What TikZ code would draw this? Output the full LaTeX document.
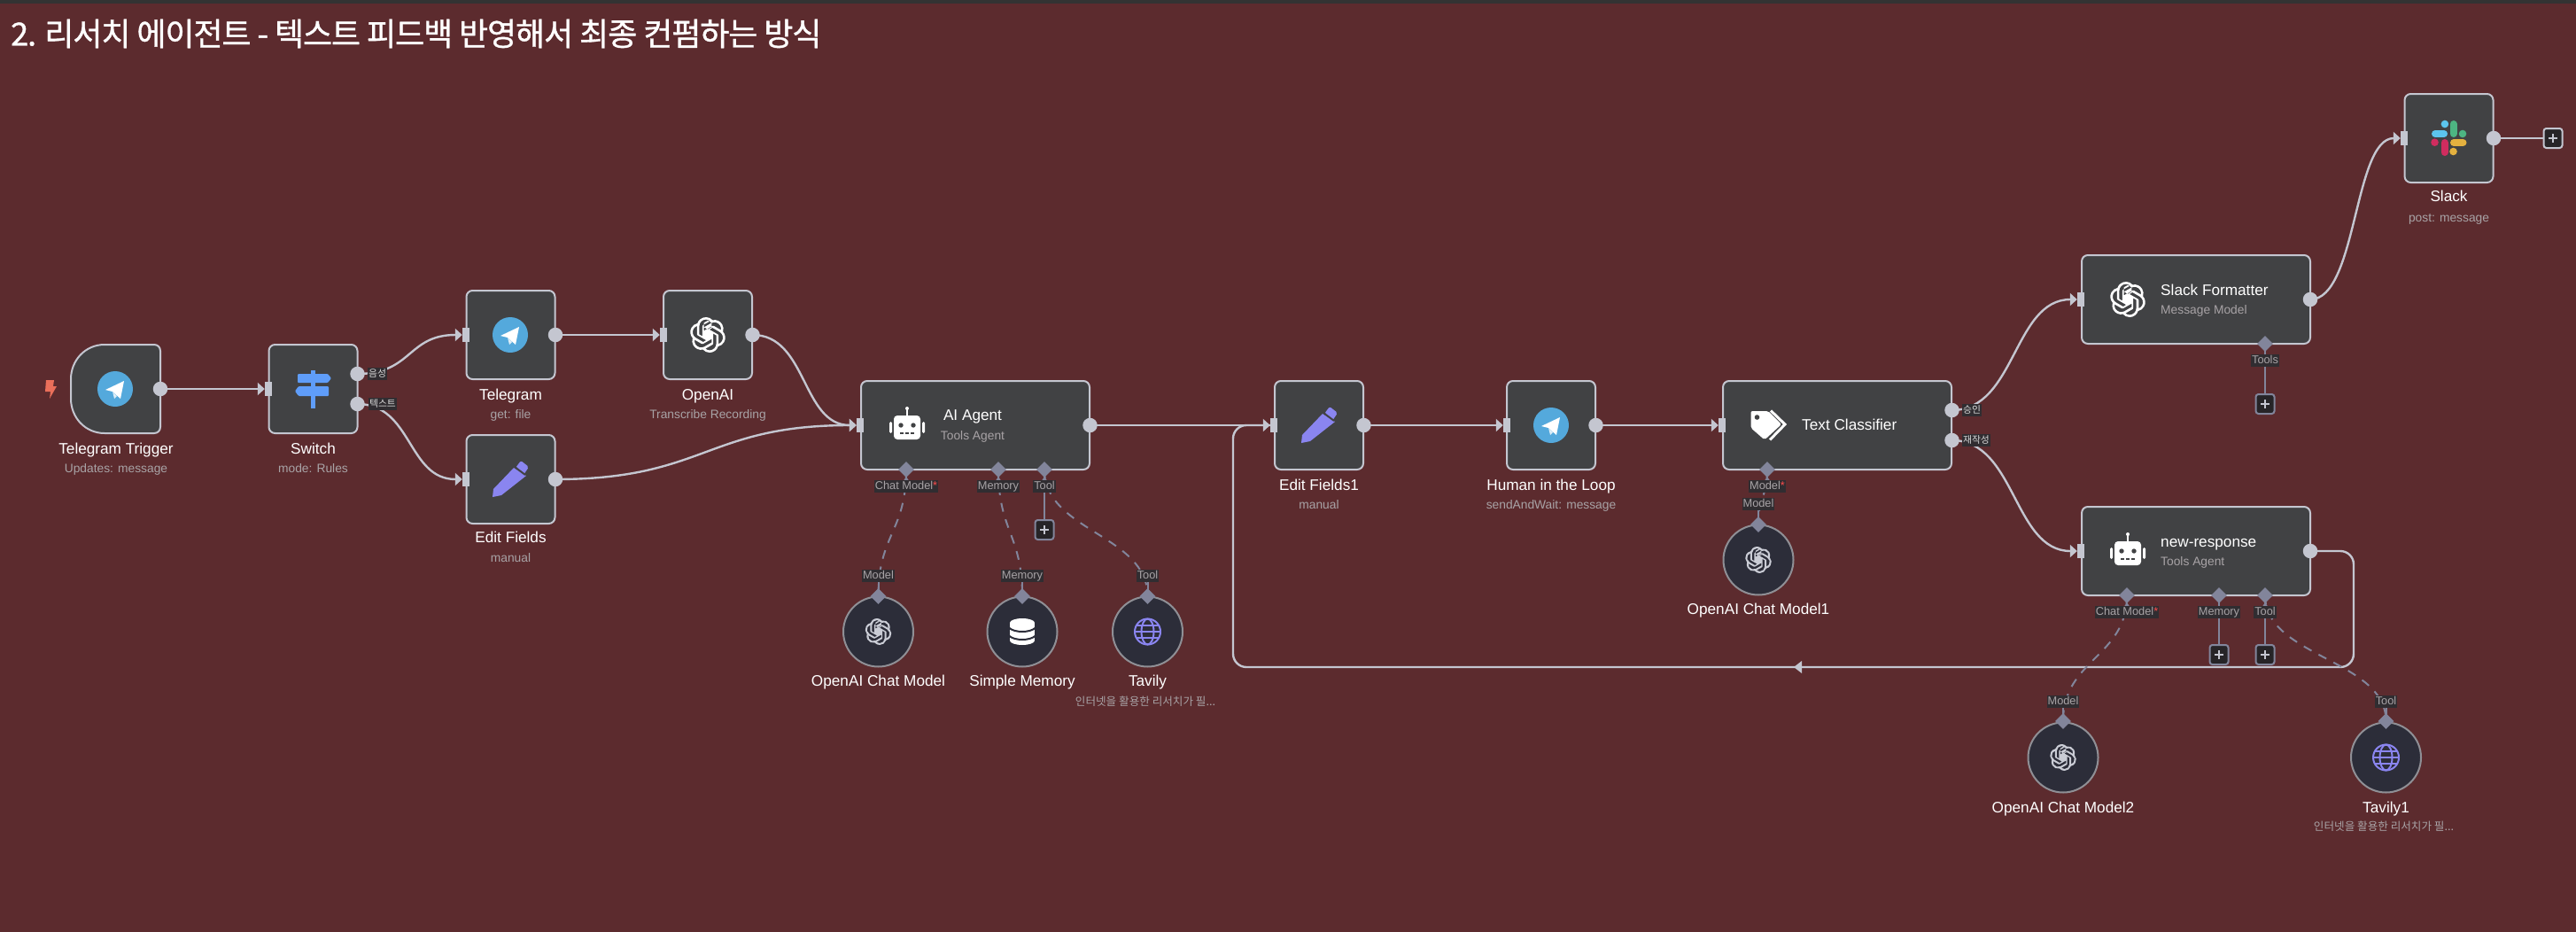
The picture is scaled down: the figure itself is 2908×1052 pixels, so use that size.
\documentclass[tikz,border=0pt]{standalone}
\usepackage{fontspec}
\setmainfont{Liberation Sans}
\newfontfamily\cjk{Noto Sans CJK KR}
\newfontfamily\cjktitle[FakeBold=1,LetterSpace=-3.1]{Noto Sans CJK KR}
\usetikzlibrary{shapes.geometric,arrows.meta,svg.path}
\definecolor{bgc}{HTML}{5C2B2E}
\definecolor{nodec}{HTML}{414244}
\definecolor{linec}{HTML}{C4C6D0}
\definecolor{subc}{HTML}{A8A3A6}
\definecolor{circc}{HTML}{2C2D39}
\definecolor{circb}{HTML}{8F8F95}
\definecolor{diac}{HTML}{82859B}
\definecolor{chipc}{HTML}{302D31}
\definecolor{tgc}{HTML}{54A9DC}
\definecolor{purp}{HTML}{8A85F0}
\definecolor{signc}{HTML}{5F9DF9}
\definecolor{boltc}{HTML}{EA6F5A}
\pgfdeclarelayer{bg}\pgfdeclarelayer{edges}\pgfsetlayers{bg,edges,main}
\tikzset{
 box/.style={draw=linec,fill=nodec,line width=2pt,rounded corners=7pt,minimum height=100pt,inner sep=0pt},
 sqbox/.style={box,minimum width=100pt},
 widebox/.style={box,minimum width=258pt},
 circ/.style={circle,draw=circb,fill=circc,line width=2pt,minimum size=79pt,inner sep=0pt},
 nm/.style={text=white,font=\fontsize{17.2}{20}\selectfont,inner sep=0pt,text height=12pt,text depth=2pt},
 sb/.style={text=subc,font=\fontsize{13.8}{16}\selectfont,inner sep=0pt,text height=10pt,text depth=2pt},
 sbk/.style={text=subc,font=\cjk\fontsize{12.6}{16}\selectfont,inner sep=0pt,text height=10pt,text depth=2pt},
 outdot/.style={circle,fill=linec,minimum size=16.5pt,inner sep=0pt},
 inbar/.style={rectangle,fill=linec,minimum width=8pt,minimum height=16pt,inner sep=0pt},
 dia/.style={diamond,fill=diac,minimum size=18pt,inner sep=0pt},
 chip/.style={fill=chipc,text=subc,font=\fontsize{12.8}{14}\selectfont,inner sep=1pt,text height=9.5pt,text depth=2pt},
 chipk/.style={fill=chipc,text=white!85!black,font=\cjk\fontsize{10.8}{14}\selectfont,inner sep=1pt,text height=9.5pt,text depth=2pt},
 plusb/.style={rectangle,rounded corners=3pt,fill=chipc!80!black,draw=diac,line width=2pt,minimum width=21pt,minimum height=22pt,inner sep=0pt},
 plusm/.style={plusb,draw=linec},
 flow/.style={draw=linec,line width=2.4pt,-{Triangle[length=8pt,width=14pt]}},
 flown/.style={draw=linec,line width=2.4pt},
 dashln/.style={draw=diac,line width=2pt,dash pattern=on 10pt off 9pt},
 solidln/.style={draw=diac,line width=2pt},
}
% icons
\newcommand{\oaiicon}[4]{% x y radius colour
 \fill[#4,even odd rule,shift={(#1,#2)},scale=#3/12,yscale=-1,shift={(-12pt,-12pt)}] svg {M22.2819 9.8211a5.9847 5.9847 0 0 0-.5157-4.9108 6.0462 6.0462 0 0 0-6.5098-2.9A6.0651 6.0651 0 0 0 4.9807 4.1818a5.9847 5.9847 0 0 0-3.9977 2.9 6.0462 6.0462 0 0 0 .7427 7.0966 5.98 5.98 0 0 0 .511 4.9107 6.051 6.051 0 0 0 6.5146 2.9001A5.9847 5.9847 0 0 0 13.2599 24a6.0557 6.0557 0 0 0 5.7718-4.2058 5.9894 5.9894 0 0 0 3.9977-2.9001 6.0557 6.0557 0 0 0-.7475-7.0729zm-9.022 12.6081a4.4755 4.4755 0 0 1-2.8764-1.0408l.1419-.0804 4.7783-2.7582a.7948.7948 0 0 0 .3927-.6813v-6.7369l2.02 1.1686a.071.071 0 0 1 .038.052v5.5826a4.504 4.504 0 0 1-4.4945 4.4944zm-9.6607-4.1254a4.4708 4.4708 0 0 1-.5346-3.0137l.142.0852 4.783 2.7582a.7712.7712 0 0 0 .7806 0l5.8428-3.3685v2.3324a.0804.0804 0 0 1-.0332.0615L9.74 19.9502a4.4992 4.4992 0 0 1-6.1408-1.6464zM2.3408 7.8956a4.485 4.485 0 0 1 2.3655-1.9728V11.6a.7664.7664 0 0 0 .3879.6765l5.8144 3.3543-2.0201 1.1685a.0757.0757 0 0 1-.071 0l-4.8303-2.7865A4.504 4.504 0 0 1 2.3408 7.872zm16.5963 3.8558L13.1038 8.364 15.1192 7.2a.0757.0757 0 0 1 .071 0l4.8303 2.7913a4.4944 4.4944 0 0 1-.6765 8.1042v-5.6772a.79.79 0 0 0-.407-.667zm2.0107-3.0231l-.142-.0852-4.7735-2.7818a.7759.7759 0 0 0-.7854 0L9.409 9.2297V6.8974a.0662.0662 0 0 1 .0284-.0615l4.8303-2.7866a4.4992 4.4992 0 0 1 6.6802 4.66zM8.3065 12.863l-2.02-1.1638a.0804.0804 0 0 1-.038-.0567V6.0742a4.4992 4.4992 0 0 1 7.3757-3.4537l-.142.0805L8.704 5.459a.7948.7948 0 0 0-.3927.6813zm1.0976-2.3654l2.602-1.4998 2.6069 1.4998v2.9994l-2.5974 1.4997-2.6067-1.4997Z};}
\newcommand{\plussign}[2]{\draw[linec,line width=2pt] (#1-5,#2) -- (#1+5,#2) (#1,#2-5) -- (#1,#2+5);}
\newcommand{\tgicon}[2]{%
 \begin{scope}[shift={(#1,#2)}]
 \fill[tgc] (0,0) circle (20);
 \fill[white] (-11,1) -- (10,-9) -- (6,11) -- (-3,3) -- cycle;
 \fill[white!80!tgc] (-3,3) -- (-1,11) -- (2,8) -- cycle;
 \end{scope}}
\newcommand{\penicon}[2]{%
 \begin{scope}[shift={(#1,#2)}]
 \fill[purp] (4,-13) -- (18,-4) -- (-10,18) -- (-20,20) -- (-19,11) -- cycle;
 \fill[purp,rounded corners=2pt] (12,-21) -- (21,-14) -- (15,-5) -- (6,-13) -- cycle;
 \draw[nodec,line width=2pt] (5,-14) -- (17,-5);
 \end{scope}}
\newcommand{\roboticon}[2]{%
 \begin{scope}[shift={(#1,#2)}]
 \fill[white,rounded corners=4pt] (-15,-11) rectangle (15,16);
 \fill[white] (-1.2,-20) rectangle (1.2,-10);
 \fill[white] (0,-19) circle (2);
 \fill[white,rounded corners=1.5pt] (-20,-4) rectangle (-17,9);
 \fill[white,rounded corners=1.5pt] (17,-4) rectangle (20,9);
 \fill[nodec] (-7,0) circle (2.7);
 \fill[nodec] (7,0) circle (2.7);
 \fill[nodec] (-8,8) rectangle (-4,10);
 \fill[nodec] (-2,8) rectangle (2,10);
 \fill[nodec] (4,8) rectangle (8,10);
 \end{scope}}
\newcommand{\globeicon}[2]{\begin{scope}[shift={(#1,#2)},purp,line width=2pt]
 \draw (0,0) circle (14.5); \draw (0,0) ellipse (7 and 14.5); \draw (-14.5,0) -- (14.5,0);
 \draw (-12.5,-7) -- (12.5,-7); \draw (-12.5,7) -- (12.5,7);\end{scope}}
\begin{document}
\begin{tikzpicture}[x=1pt,y=-1pt]
\useasboundingbox (0,0) rectangle (2908,1052);
\begin{pgfonlayer}{bg}
\fill[bgc] (0,0) rectangle (2908,1052);
\fill[black!80] (0,0) rectangle (2908,4);
\end{pgfonlayer}
\node[anchor=west,text=white,font=\cjktitle\fontsize{36}{40}\selectfont,inner sep=0pt] (title) at (12,38) {2. 리서치 에이전트 - 텍스트 피드백 반영해서 최종 컨펌하는 방식};

% trigger
\draw[draw=linec,fill=nodec,line width=2pt] (118,389) -- (174,389) .. controls (178,389) and (181,392) .. (181,396) -- (181,482) .. controls (181,486) and (178,489) .. (174,489) -- (118,489) .. controls (96,489) and (80,471) .. (80,450) -- (80,428) .. controls (80,407) and (96,389) .. (118,389) -- cycle;
\node[inner sep=0pt,minimum width=100pt,minimum height=100pt] (trig) at (130.5,439) {};
\tgicon{130}{439}
\fill[boltc] (52,429) -- (61,429) -- (60,436) -- (64,436) -- (56,450) -- (57,442) -- (51,442) -- cycle;
\node[nm] (trig-n) at (131,507) {Telegram Trigger};
\node[sb] (trig-s) at (131,529) {Updates: message};
\node[outdot] (trig-o) at (181,439) {};

% switch
\node[sqbox] (sw) at (353.5,439) {};
\begin{scope}
\fill[signc] (351,418) rectangle (356,461);
\fill[signc,rounded corners=1pt] (336,422) -- (370,422) -- (374,427) -- (370,432) -- (336,432) -- cycle;
\fill[signc,rounded corners=1pt] (371,436) -- (337,436) -- (333,441.5) -- (337,447) -- (371,447) -- cycle;
\end{scope}
\node[nm] (sw-n) at (353.5,507) {Switch};
\node[sb] (sw-s) at (353.5,529) {mode: Rules};
\node[inbar] (sw-i) at (303,439) {};
\node[outdot] (sw-o1) at (403.5,422) {};
\node[outdot] (sw-o2) at (403.5,456) {};
\node[chipk] (sw-l1) at (426,422) {음성};
\node[chipk] (sw-l2) at (432,456) {텍스트};

% telegram
\node[sqbox] (tel) at (576.5,378) {};
\tgicon{576}{378}
\node[nm] (tel-n) at (576.5,446) {Telegram};
\node[sb] (tel-s) at (576.5,468) {get: file};
\node[inbar] (tel-i) at (526,378) {};
\node[outdot] (tel-o) at (627,378) {};

% edit fields
\node[sqbox] (ef) at (576.5,541) {};
\penicon{576}{541}
\node[nm] (ef-n) at (576.5,607) {Edit Fields};
\node[sb] (ef-s) at (576.5,630) {manual};
\node[inbar] (ef-i) at (526,541) {};
\node[outdot] (ef-o) at (627,541) {};

% openai
\node[sqbox] (oa) at (799,378) {};
\oaiicon{799}{378}{20}{white}
\node[nm] (oa-n) at (799,446) {OpenAI};
\node[sb] (oa-s) at (799,468) {Transcribe Recording};
\node[inbar] (oa-i) at (749,378) {};
\node[outdot] (oa-o) at (849.5,378) {};

% ai agent
\node[widebox] (ag) at (1101,480) {};
\roboticon{1024}{480}
\node[nm] (ag-n) at (1098,469) {AI Agent};
\node[sb] (ag-s) at (1098,492) {Tools Agent};
\node[inbar] (ag-i) at (971,480) {};
\node[outdot] (ag-o) at (1230.5,480) {};
\node[dia] (ag-d1) at (1023,530) {};
\node[dia] (ag-d2) at (1127,530) {};
\node[dia] (ag-d3) at (1179,530) {};
\foreach \x in {1023,1127,1179}{\fill[diac] (\x-4,544) -- (\x,538) -- (\x+4,544) -- cycle;}
\node[chip] (ag-l1) at (1023,549) {Chat Model{\color{red!70!white}*}};
\node[chip] (ag-l2) at (1127,549) {Memory};
\node[chip] (ag-l3) at (1179,549) {Tool};
\node[plusb] (ag-p) at (1179,598) {};
\plussign{1179}{598}

% sub nodes
\node[circ] (cm) at (991.5,713) {};
\oaiicon{991.5}{713}{15}{linec!90!white}
\node[dia] (cm-d) at (991.5,673) {};
\node[chip] (cm-l) at (991.5,650) {Model};
\node[nm] (cm-n) at (991.5,769) {OpenAI Chat Model};
\node[circ] (mem) at (1154,713) {};
\begin{scope}[shift={(1154,713)}]
\fill[white] (0,-10) ellipse (14 and 5);
\fill[white] (0,10) ellipse (14 and 5);
\fill[white] (-14,-10) rectangle (14,10);
\draw[circc,line width=2pt] (-15,-4.5) .. controls (-9,1.5) and (9,1.5) .. (15,-4.5);
\draw[circc,line width=2pt] (-15,4.5) .. controls (-9,10.5) and (9,10.5) .. (15,4.5);
\end{scope}
\node[dia] (mem-d) at (1154,673) {};
\node[chip] (mem-l) at (1154,650) {Memory};
\node[nm] (mem-n) at (1154,769) {Simple Memory};
\node[circ] (tv) at (1295.5,713) {};
\globeicon{1295.5}{713}
\node[dia] (tv-d) at (1295.5,673) {};
\node[chip] (tv-l) at (1295.5,650) {Tool};
\node[nm] (tv-n) at (1295.5,769) {Tavily};
\node[sbk] (tv-s) at (1293,792) {인터넷을 활용한 리서치가 필...};

% edit fields 1
\node[sqbox] (ef1) at (1489,480) {};
\penicon{1489}{480}
\node[nm] (ef1-n) at (1489,548) {Edit Fields1};
\node[sb] (ef1-s) at (1489,570) {manual};
\node[inbar] (ef1-i) at (1438,480) {};
\node[outdot] (ef1-o) at (1539.5,480) {};

% hitl
\node[sqbox] (hl) at (1751,480) {};
\tgicon{1751}{480}
\node[nm] (hl-n) at (1751,548) {Human in the Loop};
\node[sb] (hl-s) at (1751,570) {sendAndWait: message};
\node[inbar] (hl-i) at (1701,480) {};
\node[outdot] (hl-o) at (1801.5,480) {};

% text classifier
\node[widebox] (tc) at (2074,480) {};
\begin{scope}
\fill[white,rounded corners=2pt] (1976.5,464) -- (1996,464) -- (2011,479) -- (1992,496.5) -- (1976.5,483) -- cycle;
\fill[nodec] (1983.5,471) circle (2.8);
\draw[white,line width=3pt] (1999,463.5) -- (2015,479) -- (1998,496.5);
\end{scope}
\node[nm,anchor=west] (tc-n) at (2034,480) {Text Classifier};
\node[inbar] (tc-i) at (1944,480) {};
\node[outdot] (tc-o1) at (2203.5,463) {};
\node[outdot] (tc-o2) at (2203.5,497) {};
\node[chipk] (tc-l1) at (2226,463) {승인};
\node[chipk] (tc-l2) at (2231,497) {재작성};
\node[dia] (tc-d) at (1995,530) {};
\fill[diac] (1991,544) -- (1995,538) -- (1999,544) -- cycle;
\node[chip] (tc-l) at (1995,549) {Model{\color{red!70!white}*}};
\node[circ] (cm1) at (1985,632) {};
\oaiicon{1985}{632}{15}{linec!90!white}
\node[dia] (cm1-d) at (1985,592) {};
\node[chip] (cm1-l) at (1985,569) {Model};
\node[nm] (cm1-n) at (1985,688) {OpenAI Chat Model1};

% slack formatter
\node[widebox] (sf) at (2479,338) {};
\oaiicon{2402}{338}{20}{white}
\node[nm,anchor=west] (sf-n) at (2439,328) {Slack Formatter};
\node[sb,anchor=west] (sf-s) at (2439,350) {Message Model};
\node[inbar] (sf-i) at (2349,338) {};
\node[outdot] (sf-o) at (2608,338) {};
\node[dia] (sf-d) at (2557,388) {};
\node[chip] (sf-l) at (2557,407) {Tools};
\node[plusb] (sf-p) at (2557,456) {};
\plussign{2557}{456}

% slack
\node[sqbox] (sl) at (2764.5,156) {};
\begin{scope}[shift={(2764.5,156)},line cap=round,line width=8pt]
\draw[draw={rgb,255:red,92;green,197;blue,238}] (-15.5,-5) -- (-5.5,-5);
\fill[fill={rgb,255:red,92;green,197;blue,238}] (-4.6,-16) circle (4.3);
\draw[draw={rgb,255:red,77;green,181;blue,130}] (5,-16) -- (5,-5);
\fill[fill={rgb,255:red,77;green,181;blue,130}] (15.5,-5) circle (4.3);
\draw[draw={rgb,255:red,208;green,44;blue,95}] (-5,5) -- (-5,16);
\fill[fill={rgb,255:red,208;green,44;blue,95}] (-16,4.7) circle (4.3);
\draw[draw={rgb,255:red,228;green,177;blue,63}] (5.5,5) -- (16,5);
\fill[fill={rgb,255:red,228;green,177;blue,63}] (5,15) circle (4.3);
\end{scope}
\node[nm] (sl-n) at (2764.5,222) {Slack};
\node[sb] (sl-s) at (2764.5,246) {post: message};
\node[inbar] (sl-i) at (2714,156) {};
\node[outdot] (sl-o) at (2815,156) {};
\node[plusm] (sl-p) at (2882,156) {};
\plussign{2882}{156}

% new-response
\node[widebox] (nr) at (2479,622) {};
\roboticon{2402}{622}
\node[nm,anchor=west] (nr-n) at (2439,612) {new-response};
\node[sb,anchor=west] (nr-s) at (2439,634) {Tools Agent};
\node[inbar] (nr-i) at (2349,622) {};
\node[outdot] (nr-o) at (2608,622) {};
\node[dia] (nr-d1) at (2401,672) {};
\node[dia] (nr-d2) at (2505,672) {};
\node[dia] (nr-d3) at (2557,672) {};
\foreach \x in {2401,2557}{\fill[diac] (\x-4,686) -- (\x,680) -- (\x+4,686) -- cycle;}
\node[chip] (nr-l1) at (2401,691) {Chat Model{\color{red!70!white}*}};
\node[chip] (nr-l2) at (2505,691) {Memory};
\node[chip] (nr-l3) at (2557,691) {Tool};
\node[plusb] (nr-p2) at (2505,739) {};
\plussign{2505}{739}
\node[plusb] (nr-p3) at (2557,739) {};
\plussign{2557}{739}
\node[circ] (cm2) at (2329,855) {};
\oaiicon{2329}{855}{15}{linec!90!white}
\node[dia] (cm2-d) at (2329,814) {};
\node[chip] (cm2-l) at (2329,792) {Model};
\node[nm] (cm2-n) at (2329,912) {OpenAI Chat Model2};
\node[circ] (tv1) at (2693.5,855) {};
\globeicon{2693.5}{855}
\node[dia] (tv1-d) at (2693.5,814) {};
\node[chip] (tv1-l) at (2693.5,792) {Tool};
\node[nm] (tv1-n) at (2693.5,912) {Tavily1};
\node[sbk] (tv1-s) at (2691,933) {인터넷을 활용한 리서치가 필...};

\coordinate (r1) at (2657,622);
\coordinate (r2) at (2657,753);
\coordinate (r3) at (1392,753);
\coordinate (r4) at (1392,480);
\coordinate (rm) at (2025,753);

\begin{pgfonlayer}{edges}
\path[flow] (trig-o.center) -- (sw-i.west);
\path[flow] (sw-o1.center) .. controls +(62,0) and +(-62,0) .. (tel-i.west);
\path[flow] (sw-o2.center) .. controls +(62,0) and +(-62,0) .. (ef-i.west);
\path[flow] (tel-o.center) -- (oa-i.west);
\path[flow] (oa-o.center) .. controls +(62,0) and +(-62,0) .. (ag-i.west);
\path[flow] (ef-o.center) .. controls +(170,0) and +(-170,0) .. (ag-i.west);
\path[flow] (ag-o.center) -- (ef1-i.west);
\path[flow] (ef1-o.center) -- (hl-i.west);
\path[flow] (hl-o.center) -- (tc-i.west);
\path[flow] (tc-o1.center) .. controls +(72,0) and +(-72,0) .. (sf-i.west);
\path[flow] (tc-o2.center) .. controls +(72,0) and +(-72,0) .. (nr-i.west);
\path[flow] (sf-o.center) .. controls +(53,0) and +(-53,0) .. (sl-i.west);
\path[flown] (sl-o.center) -- (sl-p.west);
\path[flown,rounded corners=15pt] (nr-o.center) -- (r1) -- (r2) -- (r3) -- (r4) -- (ef1-i.west);
\fill[linec] (rm) -- ++(9,-7) -- ++(0,14) -- cycle;
\path[solidln] (ag-d3.center) -- (ag-p.north);
\path[solidln] (sf-d.center) -- (sf-p.north);
\path[solidln] (nr-d2.center) -- (nr-p2.north);
\path[solidln] (nr-d3.center) -- (nr-p3.north);
\path[solidln] (cm-l.center) -- (cm-d.center);
\path[solidln] (mem-l.center) -- (mem-d.center);
\path[solidln] (tv-l.center) -- (tv-d.center);
\path[solidln] (cm1-l.center) -- (cm1-d.center);
\path[solidln] (cm2-l.center) -- (cm2-d.center);
\path[solidln] (tv1-l.center) -- (tv1-d.center);
\path[dashln] (ag-d1.center) .. controls +(0,70) and +(0,-70) .. (cm-d.center);
\path[dashln] (ag-d2.center) .. controls +(0,70) and +(0,-70) .. (mem-d.center);
\path[dashln] (ag-d3.center) .. controls +(0,70) and +(0,-70) .. (tv-d.center);
\path[dashln] (tc-d.center) .. controls +(0,30) and +(0,-30) .. (cm1-d.center);
\path[dashln] (nr-d1.center) .. controls +(0,70) and +(0,-70) .. (cm2-d.center);
\path[dashln] (nr-d3.center) .. controls +(0,70) and +(0,-70) .. (tv1-d.center);
\end{pgfonlayer}
\end{tikzpicture}
\end{document}
